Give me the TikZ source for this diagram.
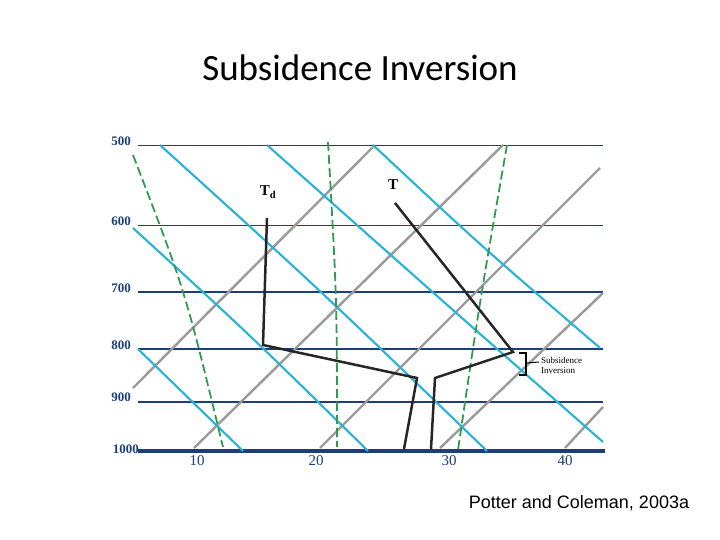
\documentclass[tikz,border=0pt]{standalone}
\usepackage{fontspec}
\setmainfont{Liberation Serif}
\newfontfamily\titlefont{Carlito}
\newfontfamily\footfont{Liberation Sans}
\definecolor{navy}{HTML}{1C3F7A}
\definecolor{cyanl}{HTML}{25B3DA}
\definecolor{grayl}{HTML}{9A9A9A}
\definecolor{greenl}{HTML}{2E9B4E}
\begin{document}
\begin{tikzpicture}[x=1pt,y=-1pt,
  iso/.style={navy,line width=1.6pt},
  gry/.style={grayl,line width=2.4pt},
  cya/.style={cyanl,line width=2.1pt},
  grn/.style={greenl,line width=1.8pt,dash pattern=on 9pt off 4pt},
  prof/.style={black!85,line width=2.5pt},
  plab/.style={navy,font=\bfseries\fontsize{13}{13}\selectfont,anchor=east,inner sep=0pt},
  tlab/.style={navy,font=\fontsize{15}{15}\selectfont,inner sep=0pt}]
\useasboundingbox (0,0) rectangle (720,540);
\node[font=\titlefont\fontsize{37}{37}\selectfont] (title) at (360,68) {Subsidence Inversion};
% isobars
\foreach \y/\l in {145.7/500,225.7/600,292/700,349/800,401.7/900}{
  \draw[iso] (138,\y) -- (603,\y);
  \node[plab] at (131,\y-4) {\l};}
\draw[navy,line width=3.2pt] (138,451) -- (605,451);
\node[plab] at (139,449) {1000};
\foreach \x/\l in {197/10,316/20,449/30,565/40}{\node[tlab] at (\x,461) {\l};}
% gray
\draw[gry] (133,388) -- (373,147);
\draw[gry] (194,448) -- (503,145);
\draw[gry] (320,448) -- (600,168);
\draw[gry] (440,448) -- (603,293);
\draw[gry] (565,448) -- (603,407);
% cyan
\draw[cya] (138,349) .. controls (190,400) .. (243,451);
\draw[cya] (133,228) .. controls (250,335) .. (368,451);
\draw[cya] (160,145) .. controls (320,290) .. (487,451);
\draw[cya] (267,145) .. controls (430,290) .. (603,442);
\draw[cya] (373,145) .. controls (480,245) .. (600,348);
% green dashed
\draw[grn] (133,155) .. controls (185,290) .. (223,447);
\draw[grn] (328,142) .. controls (337,300) .. (337,447);
\draw[grn] (507,145) .. controls (480,300) .. (458,450);
% profiles
\coordinate (d1) at (267,218); \coordinate (d2) at (263,345);
\coordinate (d3) at (417,378); \coordinate (d4) at (404,449);
\draw[prof] (d1) -- (d2) -- (d3) -- (d4);
\coordinate (t1) at (395,203); \coordinate (t2) at (513,352);
\coordinate (t3) at (435,378); \coordinate (t4) at (431,449);
\draw[prof] (t1) -- (t2) -- (t3) -- (t4);
\node[font=\bfseries\fontsize{15}{15}\selectfont,inner sep=0pt] (tdl) at (268,192) {T\textsubscript{d}};
\node[font=\bfseries\fontsize{15}{15}\selectfont,inner sep=0pt] (tl) at (393,185) {T};
% bracket
\draw[black,line width=1.8pt] (519,353) -- (526,353) -- (526,375) -- (519,375);
\draw[black,line width=1pt] (526,363) -- (539,362);
\node[font=\fontsize{9}{10}\selectfont,anchor=west,inner sep=0pt,align=left] (sub) at (541,365) {Subsidence\\Inversion};
\node[font=\footfont\fontsize{18}{18}\selectfont,inner sep=0pt] (foot) at (579,503) {Potter and Coleman, 2003a};
\end{tikzpicture}
\end{document}
